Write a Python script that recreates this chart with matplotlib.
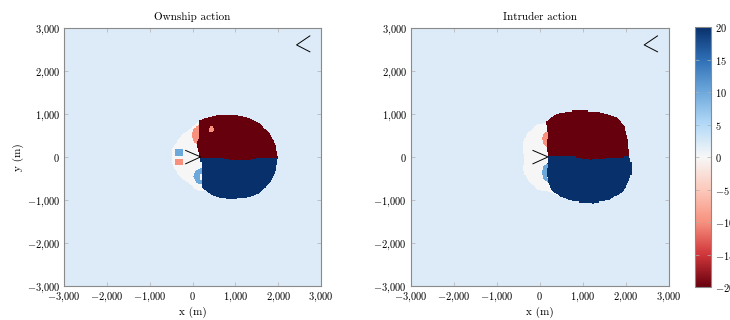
import numpy as np
import matplotlib
matplotlib.use("Agg")
import matplotlib.pyplot as plt
from matplotlib.path import Path
from matplotlib.ticker import FuncFormatter
from matplotlib.colors import Normalize, LinearSegmentedColormap
from matplotlib.cm import ScalarMappable

plt.rcParams["font.family"] = "serif"
plt.rcParams["font.serif"] = ["cmr10"]
plt.rcParams["mathtext.fontset"] = "cm"
plt.rcParams["axes.unicode_minus"] = False
plt.rcParams["axes.formatter.use_mathtext"] = True

# ── data ──────────────────────────────────────────────────────────────────────
titles = ["Ownship action", "Intruder action"]
axis_ticks = [-3000, -2000, -1000, 0, 1000, 2000, 3000]
cbar_ticks = [20, 15, 10, 5, 0, -5, -10, -15, -20]
vmin, vmax = -20, 20
background_value = 2

# action values for each region
blob_value = 0
strong_left = -20
strong_right = 20
weak_left = -10
weak_right = 10

# ownship policy regions (x, y in m)
own_blob = [(175, 860), (253, 900), (564, 977), (953, 992), (1265, 938), (1576, 783),
            (1810, 551), (1950, 279), (2004, 0), (1950, -341), (1810, -612), (1576, -845),
            (1265, -961), (876, -985), (642, -961), (447, -884), (292, -768), (175, -800),
            (60, -740), (-40, -660), (-150, -580), (-260, -470), (-360, -370), (-440, -260),
            (-490, -110), (-500, 60), (-480, 200), (-410, 300), (-320, 420), (-220, 540),
            (-100, 640), (40, 730)]
own_red = [(175, 860), (253, 900), (564, 977), (953, 992), (1265, 938), (1576, 783),
           (1810, 551), (1950, 279), (2004, 0), (1576, -8), (1265, -70), (953, -70),
           (642, -8), (175, 0), (140, 160), (100, 320), (150, 520), (165, 740)]
own_blue = [(175, 0), (642, -8), (953, -70), (1265, -70), (1576, -8), (2004, 0),
            (1950, -341), (1810, -612), (1576, -845), (1265, -961), (876, -985),
            (642, -961), (447, -884), (292, -768), (215, -700), (200, -450), (215, -186)]
own_pink = [(175, 744), (19, 668), (-19, 512), (19, 356), (97, 319), (150, 420), (165, 620)]
own_lightblue = [(215, -263), (58, -342), (19, -458), (98, -612), (215, -651), (190, -450)]
own_sq_blue = [(-409, 8), (-215, 8), (-215, 190), (-409, 190)]
own_sq_pink = [(-409, -186), (-215, -186), (-215, -31), (-409, -31)]
own_dot = (447, 644, 65)

# intruder policy regions (x, y in m)
int_blob = [(116, 783), (388, 1016), (853, 1093), (1396, 1054), (1783, 938), (1977, 706),
            (2055, 395), (2093, 8), (2132, -147), (2132, -380), (2055, -612), (1938, -806),
            (1628, -1000), (1240, -1078), (775, -1039), (465, -923), (233, -807),
            (-40, -768), (-155, -670), (-272, -574), (-340, -440), (-388, -302),
            (-370, -150), (-349, -60), (-380, 80), (-388, 319), (-310, 551), (-155, 680),
            (-40, 760)]
int_red = [(140, 820), (388, 1016), (853, 1093), (1396, 1054), (1783, 938), (1977, 706),
           (2055, 395), (2093, 8), (1396, -31), (1163, -54), (698, 23), (193, 0),
           (155, 240), (175, 551)]
int_blue = [(193, 0), (698, 23), (1163, -54), (1396, -31), (2093, 8), (2132, -147),
            (2132, -380), (2055, -612), (1938, -806), (1628, -1000), (1240, -1078),
            (775, -1039), (465, -923), (272, -768), (193, -600), (155, -300)]
int_pink = [(193, 600), (80, 560), (39, 420), (80, 300), (155, 240), (175, 420)]
int_lightblue = [(193, -147), (80, -200), (39, -360), (80, -520), (193, -600), (160, -380)]

# aircraft markers (chevrons)
own_mark = [(-160, 155), (190, 5), (-160, -155)]
intruder_mark = [(2740, 2820), (2430, 2610), (2740, 2450)]


def rasterize(layers, n=241):
    xs = np.linspace(-3000, 3000, n)
    X, Y = np.meshgrid(xs, xs)
    pts = np.column_stack([X.ravel(), Y.ravel()])
    Z = np.full(X.size, float(background_value))
    for shape, value in layers:
        if len(shape) == 3 and not isinstance(shape[0], tuple):
            cx, cy, r = shape
            path = Path.circle((cx, cy), r)
        else:
            path = Path(shape + [shape[0]], closed=True)
        Z[path.contains_points(pts)] = value
    return Z.reshape(X.shape)


own_layers = [(own_blob, blob_value), (own_red, strong_left), (own_blue, strong_right),
              (own_pink, weak_left), (own_lightblue, weak_right),
              (own_sq_blue, weak_right), (own_sq_pink, weak_left), (own_dot, weak_left)]
int_layers = [(int_blob, blob_value), (int_red, strong_left), (int_blue, strong_right),
              (int_pink, weak_left), (int_lightblue, weak_right)]

grids = [rasterize(own_layers), rasterize(int_layers)]

# diverging red-white-blue map
cmap = LinearSegmentedColormap.from_list(
    "redwhiteblue",
    ["#67000d", "#d0363a", "#f7917e", "#fcc9bb", "#f7f7f7",
     "#b4daf7", "#6ea9dc", "#2f6fb5", "#08306b"],
    N=512,
)


def thousands(v, _pos):
    return "$" + f"{v:,.0f}".replace(",", "{,}") + "$"


fig = plt.figure(figsize=(7.3, 3.2), dpi=100)
ax_left = fig.add_axes([0.0877, 0.106, 0.352, 0.806])
ax_right = fig.add_axes([0.563, 0.106, 0.353, 0.806])
cax = fig.add_axes([0.952, 0.103, 0.0219, 0.8125])

spine_color = "#8a8a8a"
for ax, Z, title in zip([ax_left, ax_right], grids, titles):
    ax.imshow(Z, origin="lower", extent=(-3000, 3000, -3000, 3000), cmap=cmap,
              vmin=vmin, vmax=vmax, interpolation="nearest", aspect="auto")
    mx, my = zip(*own_mark)
    ax.plot(mx, my, color="black", lw=0.7)
    ix, iy = zip(*intruder_mark)
    ax.plot(ix, iy, color="black", lw=0.7)
    ax.set_xlim(-3000, 3000)
    ax.set_ylim(-3000, 3000)
    ax.set_xticks(axis_ticks)
    ax.set_yticks(axis_ticks)
    ax.xaxis.set_major_formatter(FuncFormatter(thousands))
    ax.yaxis.set_major_formatter(FuncFormatter(thousands))
    ax.tick_params(direction="in", length=3, width=0.5, color="#b0b0b0",
                   top=True, right=True, labelsize=7.5, pad=3)
    for sp in ax.spines.values():
        sp.set_color(spine_color)
        sp.set_linewidth(0.8)
    ax.set_title(title, fontsize=8, pad=6)
    ax.set_xlabel("x (m)", fontsize=8, labelpad=2)

ax_left.set_ylabel("y (m)", fontsize=8, labelpad=2)

sm = ScalarMappable(norm=Normalize(vmin, vmax), cmap=cmap)
cbar = fig.colorbar(sm, cax=cax, ticks=cbar_ticks)
cbar.ax.yaxis.set_major_formatter(FuncFormatter(lambda v, p: f"${v:.0f}$"))
cbar.ax.tick_params(direction="in", length=3, width=0.5, color="#b0b0b0",
                    left=True, right=True, labelsize=7.5, pad=3)
cbar.outline.set_edgecolor(spine_color)
cbar.outline.set_linewidth(0.8)

fig.savefig("out.png", dpi=100)
